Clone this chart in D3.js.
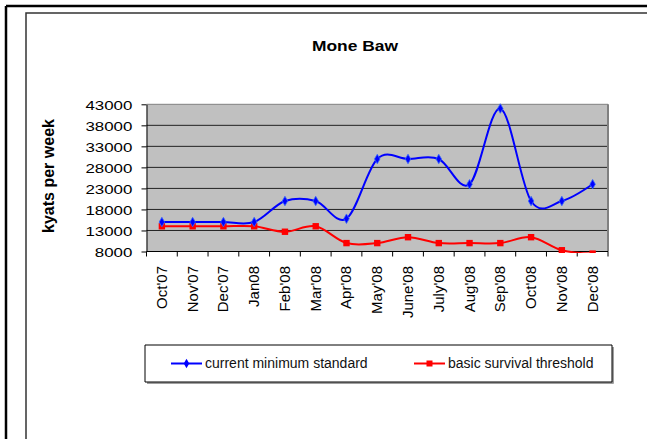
<!DOCTYPE html>
<html>
<head>
<meta charset="utf-8">
<script src="https://cdn.jsdelivr.net/npm/d3@7"></script>
<style>
  body { margin: 0; background: #fff; }
  svg { display: block; font-family: Arial, "Liberation Sans", sans-serif; background: #fff; }
</style>
</head>
<body>
<div id="chart"></div>
<script>
var months = ["Oct'07", "Nov'07", "Dec'07", "Jan08", "Feb'08", "Mar'08", "Apr'08", "May'08",
              "June'08", "July'08", "Aug'08", "Sep'08", "Oct'08", "Nov'08", "Dec'08"];
var minimumStandard = [15000, 15000, 15000, 15000, 20000, 20000, 15800, 30000,
                       30000, 30000, 24000, 42000, 20000, 20000, 24000];
var survivalThreshold = [14000, 14000, 14000, 14000, 12700, 14000, 10000, 10000,
                         11400, 10000, 10000, 10000, 11400, 8300, 7500];
var yTicks = [8000, 13000, 18000, 23000, 28000, 33000, 38000, 43000];

var width = 647, height = 439;
var plot = {left: 146.5, right: 608, top: 104.3, bottom: 251.5};

var svg = d3.select("#chart").append("svg")
    .attr("width", width)
    .attr("height", height);

// outer frame lines
svg.append("line").attr("x1", 6).attr("y1", 6).attr("x2", width).attr("y2", 6)
    .attr("stroke", "#000").attr("stroke-width", 2.5);
svg.append("line").attr("x1", 6).attr("y1", 6).attr("x2", 6).attr("y2", height)
    .attr("stroke", "#000").attr("stroke-width", 2.5);

// chart area box (runs off the right and bottom)
svg.append("path")
    .attr("d", "M26,439V13H647")
    .style("fill", "none")
    .attr("stroke", "#333")
    .attr("stroke-width", 1.5);

var x = d3.scaleBand()
    .domain(months)
    .range([plot.left, plot.right]);

var y = d3.scaleLinear()
    .domain([8000, 43000])
    .range([plot.bottom, plot.top]);

// plot background
svg.append("rect")
    .attr("x", plot.left).attr("y", plot.top)
    .attr("width", plot.right - plot.left)
    .attr("height", plot.bottom - plot.top)
    .style("fill", "#c0c0c0");

// gridlines
svg.append("g")
    .selectAll("line")
    .data(yTicks.slice(1))
    .enter()
    .append("line")
    .attr("x1", plot.left).attr("x2", plot.right)
    .attr("y1", function(d){ return y(d); })
    .attr("y2", function(d){ return y(d); })
    .attr("stroke", function(d){ return d === 43000 ? "#808080" : "#222"; })
    .attr("stroke-width", 1);

// right border
svg.append("line")
    .attr("x1", plot.right).attr("x2", plot.right)
    .attr("y1", plot.top).attr("y2", plot.bottom)
    .attr("stroke", "#808080").attr("stroke-width", 2);

// y axis
var yAxis = svg.append("g")
    .attr("transform", "translate(" + plot.left + ",0)")
    .call(d3.axisLeft(y).tickValues(yTicks).tickFormat(d3.format("d"))
        .tickSize(5).tickSizeOuter(0).tickPadding(0));
yAxis.select(".domain").attr("stroke", "#000");
yAxis.selectAll(".tick line").attr("stroke", "#000");
yAxis.selectAll(".tick text")
    .attr("x", -11.4)
    .attr("dy", "0.36em")
    .attr("transform", "scale(1.25,1)")
    .style("font-size", "13.5px")
    .attr("fill", "#000");

// x axis: ticks between categories
var xAxis = svg.append("g");
xAxis.append("line")
    .attr("x1", plot.left).attr("x2", plot.right)
    .attr("y1", plot.bottom).attr("y2", plot.bottom)
    .attr("stroke", "#000");
var boundaries = months.map(function(m){ return x(m); }).concat([plot.right]);
xAxis.selectAll(".xtick")
    .data(boundaries)
    .enter()
    .append("line")
    .attr("x1", function(d){ return d; }).attr("x2", function(d){ return d; })
    .attr("y1", plot.bottom).attr("y2", plot.bottom + 5)
    .attr("stroke", "#000");
xAxis.selectAll(".xlabel")
    .data(months)
    .enter()
    .append("text")
    .attr("transform", function(d){
        return "translate(" + (x(d) + x.bandwidth() / 2 + 5) + "," + 266 + ") rotate(-90)";
    })
    .attr("text-anchor", "end")
    .style("font-size", "15px")
    .attr("fill", "#000")
    .text(function(d){ return d; });

// clip lines to plot area (small margin at the bottom)
svg.append("clipPath").attr("id", "plotclip")
    .append("rect")
    .attr("x", plot.left - 10).attr("y", plot.top - 10)
    .attr("width", plot.right - plot.left + 20)
    .attr("height", plot.bottom - plot.top + 11.5);

var line = d3.line()
    .x(function(d, i){ return x(months[i]) + x.bandwidth() / 2; })
    .y(function(d){ return y(d); })
    .curve(d3.curveCardinal.tension(0));

var series = svg.append("g").attr("clip-path", "url(#plotclip)");

series.append("path")
    .datum(survivalThreshold)
    .attr("d", line)
    .style("fill", "none")
    .attr("stroke", "#ff0000")
    .attr("stroke-width", 2);

series.selectAll(".sq")
    .data(survivalThreshold)
    .enter()
    .append("rect")
    .attr("x", function(d, i){ return x(months[i]) + x.bandwidth() / 2 - 3.2; })
    .attr("y", function(d){ return y(d) - 3.2; })
    .attr("width", 6.4).attr("height", 6.4)
    .style("fill", "#ff0000");

series.append("path")
    .datum(minimumStandard)
    .attr("d", line)
    .style("fill", "none")
    .attr("stroke", "#0000ff")
    .attr("stroke-width", 2);

var diamond = d3.symbol().type(d3.symbolDiamond).size(26);
series.selectAll(".dm")
    .data(minimumStandard)
    .enter()
    .append("path")
    .attr("d", diamond)
    .attr("transform", function(d, i){
        return "translate(" + (x(months[i]) + x.bandwidth() / 2) + "," + y(d) + ")";
    })
    .style("fill", "#0000ff")
    .attr("stroke", "#3366ff")
    .attr("stroke-width", 0.8);

// titles
svg.append("text")
    .attr("transform", "translate(355,50.5) scale(1.2,1)")
    .attr("text-anchor", "middle")
    .style("font-size", "14.5px")
    .style("font-weight", "bold")
    .attr("fill", "#000")
    .text("Mone Baw");

svg.append("text")
    .attr("transform", "translate(54,176) rotate(-90)")
    .attr("text-anchor", "middle")
    .style("font-size", "16px")
    .style("font-weight", "bold")
    .attr("fill", "#000")
    .text("kyats per week");

// legend box: outline only, with a grey shadow edge
var legend = svg.append("g");
legend.append("path")
    .attr("d", "M147,383H613V347")
    .style("fill", "none")
    .attr("stroke", "#808080")
    .attr("stroke-width", 1.5);
legend.append("path")
    .attr("d", "M145,345H612V382H145Z")
    .style("fill", "none")
    .attr("stroke", "#000")
    .attr("stroke-width", 1);

var legendItems = [
    {name: "current minimum standard", color: "#0000ff", x0: 171, shape: "diamond"},
    {name: "basic survival threshold", color: "#ff0000", x0: 414, shape: "square"}
];
var item = legend.selectAll(".item")
    .data(legendItems)
    .enter()
    .append("g")
    .attr("transform", function(d){ return "translate(" + d.x0 + ",363.5)"; });
item.append("line")
    .attr("x1", 0).attr("x2", 31)
    .attr("stroke", function(d){ return d.color; })
    .attr("stroke-width", 2);
item.append("path")
    .attr("d", function(d){
        return d3.symbol().type(d.shape === "diamond" ? d3.symbolDiamond : d3.symbolSquare)
            .size(d.shape === "diamond" ? 26 : 36)();
    })
    .attr("transform", "translate(15.5,0)")
    .style("fill", function(d){ return d.color; });
item.append("text")
    .attr("x", 34)
    .attr("y", 4.5)
    .style("font-size", "14px")
    .attr("fill", "#111")
    .text(function(d){ return d.name; });
</script>
</body>
</html>
